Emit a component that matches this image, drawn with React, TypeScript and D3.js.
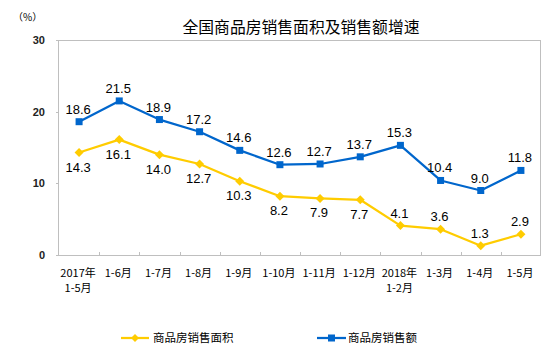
import React from "react";
import * as d3 from "d3";

const categories = [
  ["2017年", "1-5月"],
  ["1-6月"],
  ["1-7月"],
  ["1-8月"],
  ["1-9月"],
  ["1-10月"],
  ["1-11月"],
  ["1-12月"],
  ["2018年", "1-2月"],
  ["1-3月"],
  ["1-4月"],
  ["1-5月"],
];
const areaValues = [14.3, 16.1, 14.0, 12.7, 10.3, 8.2, 7.9, 7.7, 4.1, 3.6, 1.3, 2.9];
const salesValues = [18.6, 21.5, 18.9, 17.2, 14.6, 12.6, 12.7, 13.7, 15.3, 10.4, 9.0, 11.8];
const areaLabelSide = ["b", "b", "b", "b", "b", "b", "b", "b", "a", "a", "a", "a"];
const yTicks = [0, 10, 20, 30];
const seriesNames = ["商品房销售面积", "商品房销售额"];
const title = "全国商品房销售面积及销售额增速";

const W = 554;
const H = 358;
const LEFT = 59;
const RIGHT = 541;
const TOP = 40;
const BOTTOM = 255;
const YELLOW = "#FFCC00";
const BLUE = "#0066CC";
const GRAY = "#BFBFBF";
const FONT = "'Liberation Sans', Arial, 'Noto Sans CJK SC', sans-serif";
const CJK = "'Noto Sans CJK SC', 'Liberation Sans', sans-serif";

export default function App() {
  const keys = categories.map((_, i) => String(i));
  const x = d3.scaleBand<string>().domain(keys).range([LEFT, RIGHT]).padding(0);
  const y = d3.scaleLinear().domain([0, 30]).range([BOTTOM, TOP]);
  const cx = (i: number) => (x(String(i)) as number) + x.bandwidth() / 2;
  const line = d3
    .line<number>()
    .x((_, i) => cx(i))
    .y((d) => y(d));

  const diamond = (px: number, py: number, r: number) =>
    `M${px},${py - r}L${px + r},${py}L${px},${py + r}L${px - r},${py}Z`;

  return (
    <svg
      width={W}
      height={H}
      style={{ position: "absolute", left: 0, top: 0, background: "#fff" }}
      fontFamily={FONT}
    >
      <rect x={0} y={0} width={W} height={H} fill="#fff" />
      <text x={301} y={33} textAnchor="middle" fontSize={15.8} fontFamily={CJK} fill="#000">
        {title}
      </text>
      <text x={13} y={21} fontSize={10} fontFamily={CJK} fill="#000">
        （%）
      </text>

      {/* plot frame */}
      <line x1={LEFT} x2={RIGHT} y1={TOP + 0.5} y2={TOP + 0.5} stroke={GRAY} />
      <line x1={RIGHT - 0.5} x2={RIGHT - 0.5} y1={TOP} y2={BOTTOM} stroke={GRAY} />
      <line x1={LEFT - 0.5} x2={LEFT - 0.5} y1={TOP} y2={BOTTOM} stroke={GRAY} />
      <line x1={LEFT} x2={RIGHT} y1={BOTTOM + 0.5} y2={BOTTOM + 0.5} stroke={GRAY} />

      {/* y ticks */}
      {yTicks.map((t) => (
        <g key={t}>
          <line x1={LEFT - 3} x2={LEFT} y1={Math.round(y(t)) + 0.5} y2={Math.round(y(t)) + 0.5} stroke={GRAY} />
          <text x={45} y={y(t) + 4} textAnchor="end" fontSize={11} fontWeight="bold" fill="#222">
            {t}
          </text>
        </g>
      ))}

      {/* x ticks at band boundaries */}
      {keys.slice(1).map((k) => {
        const xx = Math.round(x(k) as number) + 0.5;
        return <line key={k} x1={xx} x2={xx} y1={BOTTOM - 3} y2={BOTTOM} stroke={GRAY} />;
      })}

      {/* x labels */}
      {categories.map((c, i) => (
        <text key={i} textAnchor="middle" fontSize={11} fontFamily={CJK} fill="#000">
          {c.map((s, j) => (
            <tspan key={j} x={cx(i) - 1} y={277 + j * 15}>
              {s}
            </tspan>
          ))}
        </text>
      ))}

      {/* lines */}
      <path d={line(salesValues) || ""} fill="none" stroke={BLUE} strokeWidth={2.25} strokeLinejoin="round" />
      <path d={line(areaValues) || ""} fill="none" stroke={YELLOW} strokeWidth={2.25} strokeLinejoin="round" />

      {salesValues.map((v, i) => (
        <rect key={i} x={cx(i) - 3.5} y={y(v) - 3.5} width={7} height={7} fill={BLUE} />
      ))}
      {areaValues.map((v, i) => (
        <path key={i} d={diamond(cx(i), y(v), 4.5)} fill={YELLOW} />
      ))}

      {/* data labels */}
      {salesValues.map((v, i) => (
        <text key={i} x={cx(i) - 1} y={y(v) - 8} textAnchor="middle" fontSize={13} fill="#000">
          {v.toFixed(1)}
        </text>
      ))}
      {areaValues.map((v, i) => (
        <text
          key={i}
          x={cx(i) - 1}
          y={areaLabelSide[i] === "b" ? y(v) + 19 : y(v) - 8}
          textAnchor="middle"
          fontSize={13}
          fill="#000"
        >
          {v.toFixed(1)}
        </text>
      ))}

      {/* legend */}
      <line x1={121} x2={149} y1={338} y2={338} stroke={YELLOW} strokeWidth={2.25} />
      <path d={diamond(135, 338, 4)} fill={YELLOW} />
      <text x={153} y={342} fontSize={11.5} fontFamily={CJK} fill="#000">
        {seriesNames[0]}
      </text>
      <line x1={317} x2={346} y1={338} y2={338} stroke={BLUE} strokeWidth={2.25} />
      <rect x={328} y={334.5} width={7} height={7} fill={BLUE} />
      <text x={348} y={342} fontSize={11.5} fontFamily={CJK} fill="#000">
        {seriesNames[1]}
      </text>
    </svg>
  );
}
